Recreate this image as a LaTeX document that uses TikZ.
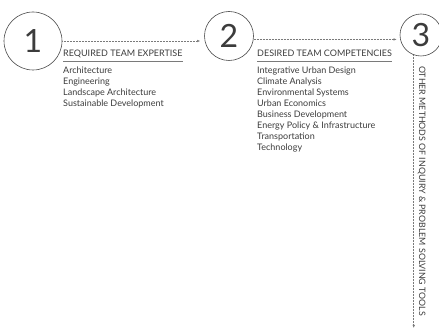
\documentclass[tikz,border=0pt]{standalone}
\usepackage{fontspec}
\setmainfont{Lato}
\usepackage{xcolor}
\definecolor{InkGray}{HTML}{3C3C3C}
\definecolor{LineGray}{HTML}{4A4A4A}
\definecolor{DotGray}{HTML}{7A7A7A}
\usepackage{tikz}
\usetikzlibrary{positioning,calc,arrows.meta}

\begin{document}
\begin{tikzpicture}[x=1pt, y=-1pt,
    stage/.style={circle, draw=LineGray, line width=0.6pt, inner sep=0pt,
      font=\fontsize{32pt}{32pt}\selectfont, text=InkGray},
    flow/.style={draw=DotGray, line width=0.5pt, dash pattern=on 0.6pt off 0.9pt,
      -{Latex[length=3.2pt,width=2.6pt]}},
    heading/.style={anchor=base west, inner sep=0pt, text=InkGray,
      font=\fontsize{9pt}{9pt}\selectfont},
    item/.style={anchor=base west, inner sep=0pt, text=InkGray,
      font=\fontsize{9pt}{10pt}\selectfont},
    underline/.style={draw=DotGray, line width=0.5pt}]
  \useasboundingbox (0,0) rectangle (439,331);

  % Stage circles
  \node[stage, minimum size=58pt] (c1) at (33,41) {1};
  \node[stage, minimum size=49pt] (c2) at (229,36) {2};
  \node[stage, minimum size=42pt] (c3) at (421,35) {3};

  % Dotted connectors between the stages
  \coordinate (tail) at (0,328);
  \draw[flow, shorten >=4pt] (c1.east) -- (c1.east -| c2.west);
  \draw[flow, shorten >=3pt] (c2.-8) -- (c2.-8 -| c3.west);
  \draw[flow] (c3.-110) -- (c3.-110 |- tail);

  % Headings with their rules
  \node[heading] (h1) at (63,57) {REQUIRED TEAM EXPERTISE};
  \node[heading] (h2) at (257,57) {DESIRED TEAM COMPETENCIES};
  \foreach \h in {h1,h2} {
    \draw[underline] ($(\h.base west)+(0,4)$) -- ($(\h.base east)+(0,4)$);
  }

  % Lists
  \foreach \txt [count=\i] in {Architecture, Engineering,
      Landscape Architecture, Sustainable Development} {
    \node[item] (a\i) at (63, 63+\i*11) {\txt};
  }
  \foreach \txt [count=\i] in {Integrative Urban Design, Climate Analysis,
      Environmental Systems, Urban Economics, Business Development,
      Energy Policy \& Infrastructure, Transportation, Technology} {
    \node[item] (b\i) at (257, 63+\i*11) {\txt};
  }

  % Vertical label of stage 3
  \node[heading, rotate=-90, font=\fontsize{8.8pt}{8.8pt}\selectfont] (v3) at (419,66)
    {OTHER METHODS OF INQUIRY \& PROBLEM SOLVING TOOLS};
\end{tikzpicture}
\end{document}
